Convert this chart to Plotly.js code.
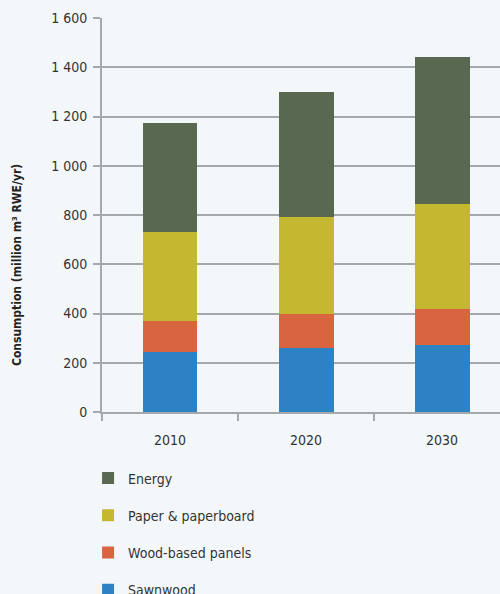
<!DOCTYPE html>
<html>
<head>
<meta charset="utf-8">
<script src="https://cdn.plot.ly/plotly-3.0.1.min.js"></script>
<style>
html,body{margin:0;padding:0;background:#f3f7fa;}
#chart{width:500px;height:594px;}
</style>
</head>
<body>
<div id="chart"></div>
<script>
var years = ["2010", "2020", "2030"];
var sawnwood = [245, 261, 272];
var woodPanels = [125, 138, 146];
var paper = [361, 393, 427];
var energy = [444, 508, 596];

var seriesNames = ["Sawnwood", "Wood-based panels", "Paper & paperboard", "Energy"];
var seriesColors = ["#2c82c2", "#d86440", "#c4b830", "#596850"];
var seriesValues = [sawnwood, woodPanels, paper, energy];
var yTitle = "Consumption (million m³ RWE/yr)";

var FONT = '"DejaVu Sans Condensed", "DejaVu Sans", sans-serif';

var traces = seriesNames.map(function (n, i) {
  return {
    type: "bar",
    name: n,
    x: years,
    y: seriesValues[i],
    marker: {color: seriesColors[i], line: {width: 0}},
    legendgroup: "g" + i,
    legendrank: 4 - i,
    hoverinfo: "x+y+name"
  };
});

var layout = {
  width: 500,
  height: 594,
  barmode: "stack",
  bargap: 0.596,
  paper_bgcolor: "#f3f7fa",
  plot_bgcolor: "#f3f7fa",
  margin: {l: 102, r: 0, t: 18, b: 182, pad: 0, autoexpand: false},
  font: {family: FONT, size: 14, color: "#333"},
  separators: ". ",
  xaxis: {
    type: "category",
    range: [-0.5, 2.426],
    tickson: "boundaries",
    ticks: "outside",
    ticklen: 7,
    tickwidth: 2,
    tickcolor: "#a4a9ac",
    showline: true,
    linecolor: "#a4a9ac",
    linewidth: 2,
    showgrid: false,
    ticklabelstandoff: 14,
    tickfont: {family: FONT, size: 14, color: "#333"},
    fixedrange: true
  },
  yaxis: {
    range: [0, 1600],
    dtick: 200,
    tick0: 0,
    separatethousands: true,
    ticks: "outside",
    ticklen: 7,
    tickwidth: 2,
    tickcolor: "#a4a9ac",
    showline: true,
    linecolor: "#a4a9ac",
    linewidth: 2,
    showgrid: true,
    gridcolor: "#a4a9ac",
    gridwidth: 2,
    zeroline: false,
    ticklabelstandoff: 3,
    tickfont: {family: FONT, size: 14, color: "#333"},
    fixedrange: true
  },
  annotations: [{
    text: yTitle,
    xref: "paper",
    yref: "paper",
    x: -0.2136,
    y: 0.373,
    xanchor: "center",
    yanchor: "middle",
    textangle: -90,
    showarrow: false,
    font: {family: FONT, size: 12, color: "#222", weight: "bold"}
  }],
  showlegend: true,
  legend: {
    orientation: "v",
    x: -0.035,
    xanchor: "left",
    y: -0.128,
    yanchor: "top",
    traceorder: "grouped",
    tracegroupgap: 16,
    bgcolor: "rgba(0,0,0,0)",
    font: {family: FONT, size: 14, color: "#333"},
    itemclick: false,
    itemdoubleclick: false
  }
};

Plotly.newPlot("chart", traces, layout, {displayModeBar: false, staticPlot: true});
</script>
</body>
</html>
